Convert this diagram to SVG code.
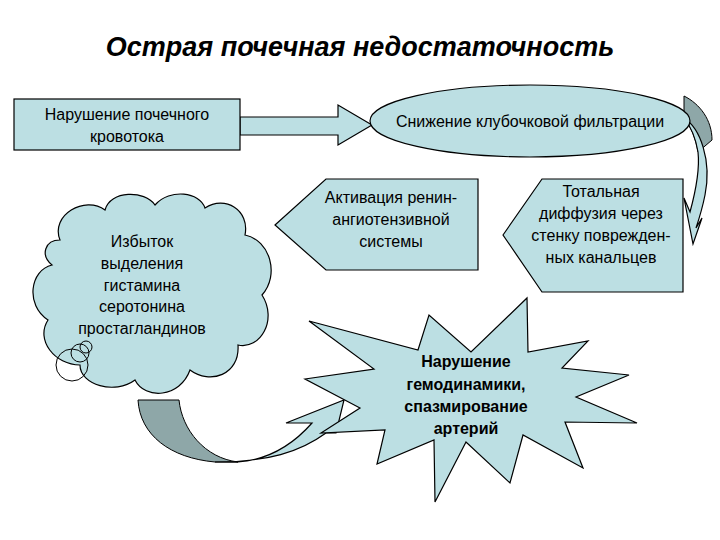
<svg xmlns="http://www.w3.org/2000/svg" width="720" height="540" viewBox="0 0 720 540">
<style>
.s{fill:#bcdfe3;stroke:#000;stroke-width:1.2}
.g{fill:#8ea7a8;stroke:#000;stroke-width:1}
.t{font-family:"Liberation Sans",Arial,sans-serif;font-size:16px;text-anchor:middle;fill:#000}
.b{font-weight:bold}
</style>
<rect width="720" height="540" fill="#fff"/>
<text x="360" y="56" class="t b" style="font-size:27px;font-style:italic">Острая почечная недостаточность</text>
<g id="connectors">
<path class="s" d="M240,117 H338 V105 L372,125 L338,145 V135 H240 Z"/>
<path class="g" d="M684,96 C700,104 712,120 712,140 L698,152 C696,140 692,128 684,118 Z"/>
<path class="s" d="M684,118 C700,128 712,160 705,195 C702,210 698,222 696,228 L702,218 L693,244 L684,198 L690,212 C696,190 700,170 698,152 C696,140 692,128 684,118 Z"/>
<path class="g" d="M138,400 H179 C182,430 205,458 238,462 L215,462 C170,458 140,435 138,400 Z"/>
<path class="s" d="M215,462 H238 C265,460 290,448 312,423 L286,423 L344,400 L336,433 L326,433 C300,452 268,462 215,462 Z"/>
</g>
<g id="n1"><rect class="s" x="14" y="99" width="226" height="51"/>
<text class="t" x="127" y="120">Нарушение почечного</text><text class="t" x="127" y="142">кровотока</text></g>
<g id="n2"><ellipse class="s" cx="530" cy="121" rx="160" ry="36"/>
<text class="t" x="530" y="127">Снижение клубочковой фильтрации</text></g>
<g id="n3"><path class="s" d="M275,225 L326,179 H478 V270 H326 Z"/>
<text class="t" x="391" y="203">Активация ренин-</text><text class="t" x="391" y="225">ангиотензивной</text><text class="t" x="391" y="247">системы</text></g>
<g id="n4"><path class="s" d="M503,235 L542,179 H683 V292 H542 Z"/>
<text class="t" x="601" y="197">Тотальная</text><text class="t" x="601" y="219">диффузия через</text><text class="t" x="601" y="241">стенку поврежден-</text><text class="t" x="601" y="263">ных канальцев</text></g>
<g id="n5"><path class="s" d="M60,240 C50,215 85,195 105,210 C110,190 145,190 155,205 C170,188 200,192 205,208 C225,195 250,210 245,235 C270,240 280,275 262,295 C278,320 260,350 238,345 C240,375 210,385 190,370 C180,398 145,400 135,380 C115,395 80,385 80,365 C55,365 35,340 48,320 C25,305 30,270 52,265 C40,255 45,240 60,240 Z"/>
<circle cx="72" cy="365" r="16" fill="none" stroke="#000"/><circle cx="80" cy="353" r="9" fill="none" stroke="#000"/><circle cx="86" cy="347" r="6" fill="none" stroke="#000"/>
<text class="t" x="142" y="247">Избыток</text><text class="t" x="142" y="269">выделения</text><text class="t" x="142" y="291">гистамина</text><text class="t" x="142" y="312">серотонина</text><text class="t" x="142" y="334">простагландинов</text></g>
<g id="n6"><path class="s" d="M309,321 L374,369 L305,379 L360,408 L321,433 L385,430 L377,464 L434,440 L435,502 L466,442 L510,483 L523,435 L583,468 L565,422 L637,423 L576,397 L629,375 L562,368 L588,341 L528,352 L527,298 L471,352 L429,315 L418,350 Z"/>
<text class="t b" x="466" y="367">Нарушение</text><text class="t b" x="466" y="390">гемодинамики,</text><text class="t b" x="466" y="412">спазмирование</text><text class="t b" x="466" y="434">артерий</text></g>
</svg>
